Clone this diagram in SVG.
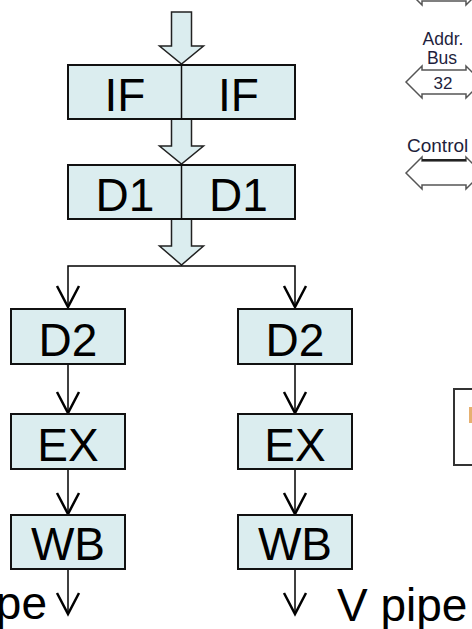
<svg xmlns="http://www.w3.org/2000/svg" width="472" height="629" viewBox="0 0 472 629">
<defs>
<style>
.box{fill:#dbedef;stroke:#111;stroke-width:2}
.lbl{font-family:"Liberation Sans",Arial,sans-serif;font-size:46px;fill:#000;text-anchor:middle}
.big{font-family:"Liberation Sans",Arial,sans-serif;font-size:46px;fill:#000}
.hol{fill:#dbedef;stroke:#222;stroke-width:1.5;stroke-linejoin:miter}
.ln{fill:none;stroke:#000;stroke-width:1.5}
.chev{fill:none;stroke:#000;stroke-width:2.5;stroke-linejoin:miter}
.bus{fill:#fff;stroke:#555;stroke-width:1.5}
.sm{font-family:"Liberation Sans",Arial,sans-serif;font-size:17.5px;fill:#1e1e3c;text-anchor:middle}
</style>
<path id="dbl" d="M406,82 L422,66 V70 H466 V66 L482,82 L466,98 V94 H422 V98 Z"/>
</defs>
<rect width="472" height="629" fill="#fff"/>

<g id="side">
<use href="#dbl" class="bus" transform="translate(0,-93)"/>
<text class="sm" x="443" y="44.5">Addr.</text>
<text class="sm" x="442" y="64">Bus</text>
<use href="#dbl" class="bus"/>
<text class="sm" x="443" y="89" style="font-size:17px">32</text>
<text class="sm" x="407" y="152" style="text-anchor:start;font-size:19px">Control</text>
<use href="#dbl" class="bus" transform="translate(0,91)"/>
<line x1="422" y1="160" x2="466" y2="160" stroke="#222" stroke-width="2"/>
<rect x="454" y="389" width="30" height="76" fill="#fff" stroke="#333" stroke-width="2"/>
<rect x="469" y="407" width="3" height="16" fill="#e6b070"/>
</g>

<g id="connectors">
<path class="hol" d="M171.5,12 V46 H159.5 L181.5,64 L203.5,46 H191.5 V12 Z"/>
<path class="hol" d="M171.5,119 V146 H159.5 L181.5,164 L203.5,146 H191.5 V119 Z"/>
<path class="hol" d="M171.5,219 V246 H159.5 L181.5,265 L203.5,246 H191.5 V219 Z"/>
<path class="ln" d="M68,307 V266 H295 V307"/>
<path class="chev" d="M57,286 L68,307 L79,286"/>
<path class="chev" d="M284,286 L295,307 L306,286"/>
<line class="ln" x1="68" y1="364" x2="68" y2="412"/>
<line class="ln" x1="295" y1="364" x2="295" y2="412"/>
<path class="chev" d="M57,392 L68,413 L79,392"/>
<path class="chev" d="M284,392 L295,413 L306,392"/>
<line class="ln" x1="68" y1="469" x2="68" y2="513"/>
<line class="ln" x1="295" y1="469" x2="295" y2="513"/>
<path class="chev" d="M57,493 L68,514 L79,493"/>
<path class="chev" d="M284,493 L295,514 L306,493"/>
<line class="ln" x1="68" y1="569" x2="68" y2="613"/>
<line class="ln" x1="295" y1="569" x2="295" y2="613"/>
<path class="chev" d="M57,593 L68,614 L79,593"/>
<path class="chev" d="M284,593 L295,614 L306,593"/>
</g>

<g id="IF">
<rect class="box" x="68" y="65" width="227" height="54"/>
<line x1="181.5" y1="65" x2="181.5" y2="119" stroke="#111" stroke-width="1.5"/>
<text class="lbl" x="125" y="111">IF</text>
<text class="lbl" x="238.5" y="111">IF</text>
</g>
<g id="D1">
<rect class="box" x="68" y="165" width="227" height="54"/>
<line x1="181.5" y1="165" x2="181.5" y2="219" stroke="#111" stroke-width="1.5"/>
<text class="lbl" x="125" y="211">D1</text>
<text class="lbl" x="238.5" y="211">D1</text>
</g>
<g id="D2-U"><rect class="box" x="11" y="309" width="114" height="55"/><text class="lbl" x="68" y="356">D2</text></g>
<g id="D2-V"><rect class="box" x="238" y="309" width="114" height="55"/><text class="lbl" x="295" y="356">D2</text></g>
<g id="EX-U"><rect class="box" x="11" y="414" width="114" height="55"/><text class="lbl" x="68" y="461">EX</text></g>
<g id="EX-V"><rect class="box" x="238" y="414" width="114" height="55"/><text class="lbl" x="295" y="461">EX</text></g>
<g id="WB-U"><rect class="box" x="11" y="515" width="114" height="54"/><text class="lbl" x="68" y="560">WB</text></g>
<g id="WB-V"><rect class="box" x="238" y="515" width="114" height="54"/><text class="lbl" x="295" y="560">WB</text></g>

<g id="labels">
<text class="big" x="47" y="619" text-anchor="end">pe</text>
<text class="big" x="337" y="621">V pipe</text>
</g>
</svg>
